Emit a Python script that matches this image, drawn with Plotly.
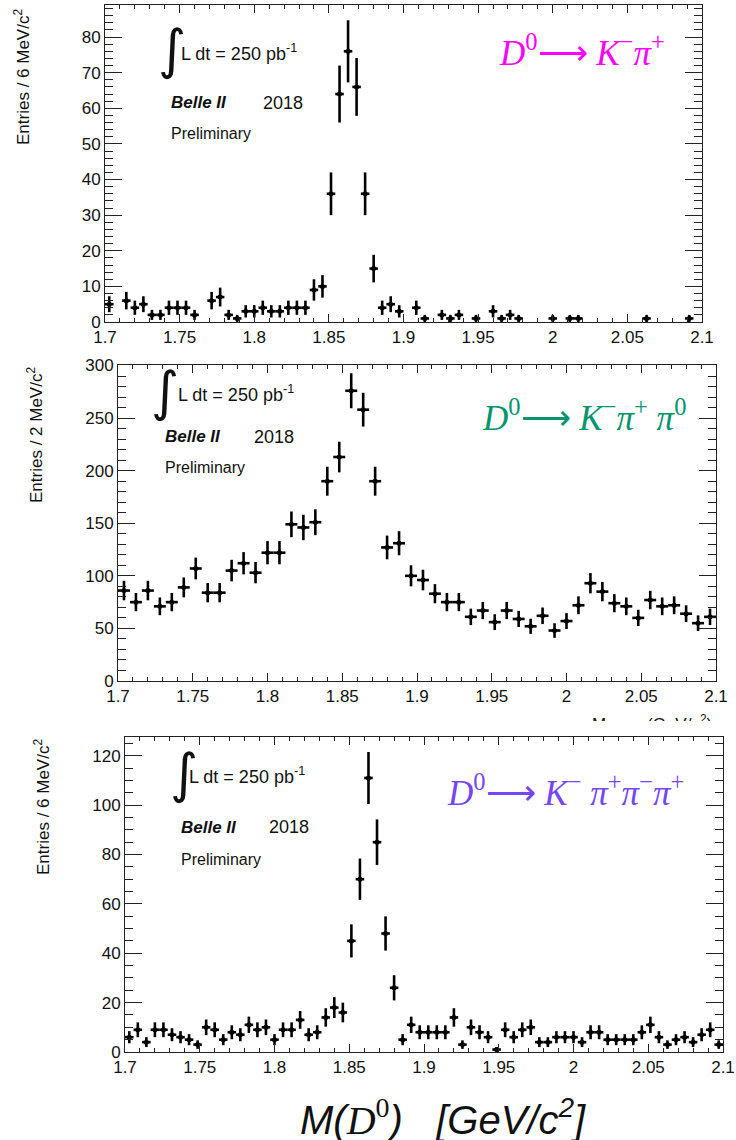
import numpy as np
import plotly.graph_objects as go

# ---- data -----------------------------------------------------------------
# histogram ranges (GeV/c^2) and number of bins per panel
mass_lo, mass_hi = 1.7, 2.1
nbins_kpi = 70
nbins_kpipi0 = 50
nbins_k3pi = 70

# D0 -> K- pi+ : entries per bin
counts_kpi = [
    5, 0, 6, 4, 5, 2, 2, 4, 4, 4,
    2, 0, 6, 7, 2, 1, 3, 3, 4, 3,
    3, 4, 4, 4, 9, 10, 36, 64, 76, 66,
    36, 15, 4, 5, 3, 0, 4, 1, 0, 2,
    1, 2, 0, 1, 0, 3, 1, 2, 1, 0,
    0, 0, 1, 0, 1, 1, 0, 0, 0, 0,
    0, 0, 0, 1, 0, 0, 0, 0, 1, 0,
]

# D0 -> K- pi+ pi0 : entries per bin
counts_kpipi0 = [
    86, 75, 86, 71, 75, 89, 107, 84, 84, 105,
    112, 103, 122, 122, 149, 146, 151, 190, 213, 276,
    258, 190, 127, 131, 100, 96, 83, 75, 75, 61,
    67, 56, 67, 59, 52, 62, 48, 57, 72, 93,
    85, 74, 71, 60, 77, 71, 72, 64, 55, 61,
]

# D0 -> K- pi+ pi- pi+ : entries per bin
counts_k3pi = [
    6, 9, 4, 9, 9, 7, 6, 5, 3, 10,
    9, 5, 8, 7, 11, 9, 10, 5, 9, 9,
    13, 7, 8, 14, 18, 16, 45, 70, 111, 85,
    48, 26, 5, 11, 8, 8, 8, 8, 14, 3,
    10, 8, 6, 1, 9, 6, 9, 10, 4, 4,
    6, 6, 6, 4, 8, 8, 5, 5, 5, 5,
    8, 11, 6, 3, 5, 6, 4, 7, 9, 3,
]

y_titles = ["Entries / 6 MeV/c<sup>2</sup>",
            "Entries / 2 MeV/c<sup>2</sup>",
            "Entries / 6 MeV/c<sup>2</sup>"]
ARROW = "\u27f6"
decay_labels = [
    "<i>D</i><sup>0</sup>" + ARROW + " <i>K</i><sup>\u2212</sup><i>\u03c0</i><sup>+</sup>",
    "<i>D</i><sup>0</sup>" + ARROW + " <i>K</i><sup>\u2212</sup><i>\u03c0</i><sup>+</sup>"
    " <i>\u03c0</i><sup>0</sup>",
    "<i>D</i><sup>0</sup>" + ARROW + " <i>K</i><sup>\u2212</sup> <i>\u03c0</i><sup>+</sup>"
    "<i>\u03c0</i><sup>\u2212</sup><i>\u03c0</i><sup>+</sup>",
]
decay_colors = ["#ff00ff", "#00956e", "#7446f5"]
y_max = [89.0, 300.5, 127.6]
y_dtick = [10, 50, 20]
y_minor = [2, 10, 5]

# ---- page geometry (pixels) -----------------------------------------------
W, H = 736, 1140
# frame boxes: (left, right, top, bottom)
frames = [(105, 702, 5, 322), (118, 716, 365, 681), (125, 723, 737, 1052)]

FONT = "Liberation Sans, Arial, sans-serif"
SERIF = "Liberation Serif, Times New Roman, serif"


def px_x(v):
    return v / W


def px_y(v):
    return 1 - v / H


fig = go.Figure()


def add_hist(counts, nbins, idx):
    edges = np.linspace(mass_lo, mass_hi, nbins + 1)
    centers = 0.5 * (edges[:-1] + edges[1:])
    half = 0.5 * (edges[1] - edges[0])
    c = np.asarray(counts, dtype=float)
    keep = c > 0
    sfx = "" if idx == 0 else str(idx + 1)
    fig.add_trace(go.Scatter(
        x=centers[keep], y=c[keep], mode="markers",
        marker=dict(symbol="circle", size=5, color="black"),
        error_y=dict(type="data", array=np.sqrt(c[keep]), width=0,
                     thickness=2.6, color="black"),
        error_x=dict(type="data", array=np.full(keep.sum(), half), width=0,
                     thickness=2.6, color="black"),
        xaxis="x" + sfx, yaxis="y" + sfx, showlegend=False,
        cliponaxis=False,
    ))


add_hist(counts_kpi, nbins_kpi, 0)
add_hist(counts_kpipi0, nbins_kpipi0, 1)
add_hist(counts_k3pi, nbins_k3pi, 2)

layout = dict(
    width=W, height=H, margin=dict(l=0, r=0, t=0, b=0, autoexpand=False),
    paper_bgcolor="white", plot_bgcolor="white",
    font=dict(family=FONT, size=17, color="#111"),
    showlegend=False,
)

for i, (l, r, t, b) in enumerate(frames):
    sfx = "" if i == 0 else str(i + 1)
    layout["xaxis" + sfx] = dict(
        domain=[px_x(l), px_x(r)], range=[mass_lo, mass_hi],
        anchor="y" + sfx, showgrid=False, zeroline=False, automargin=False,
        showline=True, linecolor="#222", linewidth=1, mirror="ticks",
        ticks="inside", ticklen=8, tickwidth=1, tickcolor="#222",
        tick0=1.7, dtick=0.05,
        minor=dict(ticks="inside", ticklen=4, dtick=0.01, tick0=1.7,
                   tickcolor="#222", showgrid=False),
        tickfont=dict(family=FONT, size=17, color="#111"),
    )
    layout["yaxis" + sfx] = dict(
        domain=[px_y(b), px_y(t)], range=[0, y_max[i]],
        anchor="x" + sfx, showgrid=False, zeroline=False, automargin=False,
        showline=True, linecolor="#222", linewidth=1, mirror="ticks",
        ticks="inside", ticklen=17, tickwidth=1, tickcolor="#222",
        tick0=0, dtick=y_dtick[i],
        minor=dict(ticks="inside", ticklen=8, dtick=y_minor[i], tick0=0,
                   tickcolor="#222", showgrid=False),
        tickfont=dict(family=FONT, size=17, color="#111"),
    )

# hidden strip holding the clipped top of an axis title under the middle panel
layout["xaxis4"] = dict(domain=[0, 1], range=[0, W], visible=False,
                        anchor="y4", automargin=False)
layout["yaxis4"] = dict(domain=[px_y(721), px_y(700)], range=[721, 700],
                        visible=False, anchor="x4", automargin=False)
fig.add_trace(go.Scatter(
    x=[592, 647], y=[726, 726], mode="text",
    text=["M<sub>K\u03c0\u03c0</sub>", "(GeV/c<sup>2</sup>)"],
    textposition="middle right",
    textfont=dict(family=FONT, size=17, color="#111"),
    xaxis="x4", yaxis="y4", cliponaxis=True, showlegend=False,
))

fig.update_layout(**layout)

ann = []
# per-panel text placement: integral sign, luminosity text, Belle II, 2018,
# Preliminary, decay label, y title
place = [
    dict(intx=172, inty=49, lumx=179, lumy=52, bx=169, by=103, yx=261,
         py=133, dx=497, dy=50, tx=22, ty=7),
    dict(intx=165, inty=391, lumx=176, lumy=394, bx=163, by=437, yx=252,
         py=468, dx=480, dy=415, tx=35, ty=365),
    dict(intx=184, inty=773, lumx=187, lumy=775, bx=179, by=827, yx=267,
         py=859, dx=445, dy=790, tx=42, ty=737),
]
for i, p in enumerate(place):
    ann.append(dict(x=px_x(p["intx"]), y=px_y(p["inty"]), xref="paper",
                    yref="paper", text="\u222b", showarrow=False,
                    xanchor="center", yanchor="middle",
                    font=dict(family="DejaVu Sans", size=54, color="#111")))
    ann.append(dict(x=px_x(p["lumx"]), y=px_y(p["lumy"]), xref="paper",
                    yref="paper", text="L dt = 250 pb<sup>-1</sup>",
                    showarrow=False, xanchor="left", yanchor="middle",
                    font=dict(family=FONT, size=18, color="#111")))
    ann.append(dict(x=px_x(p["bx"]), y=px_y(p["by"]), xref="paper",
                    yref="paper", text="<b><i>Belle II</i></b>",
                    showarrow=False, xanchor="left", yanchor="middle",
                    font=dict(family=FONT, size=17, color="#111")))
    ann.append(dict(x=px_x(p["yx"]), y=px_y(p["by"]), xref="paper",
                    yref="paper", text="2018", showarrow=False,
                    xanchor="left", yanchor="middle",
                    font=dict(family=FONT, size=18, color="#111")))
    ann.append(dict(x=px_x(p["bx"]), y=px_y(p["py"]), xref="paper",
                    yref="paper", text="Preliminary", showarrow=False,
                    xanchor="left", yanchor="middle",
                    font=dict(family=FONT, size=16, color="#111")))
    ann.append(dict(x=px_x(p["dx"]), y=px_y(p["dy"]), xref="paper",
                    yref="paper", text=decay_labels[i], showarrow=False,
                    xanchor="left", yanchor="middle",
                    font=dict(family=SERIF, size=35, color=decay_colors[i])))
    ann.append(dict(x=px_x(p["tx"]), y=px_y(p["ty"]), xref="paper",
                    yref="paper", text=y_titles[i], showarrow=False,
                    textangle=-90, xanchor="center", yanchor="top",
                    font=dict(family=FONT, size=17, color="#111")))

# common mass-axis title at the bottom
ann.append(dict(
    x=px_x(298), y=px_y(1117), xref="paper", yref="paper", showarrow=False,
    xanchor="left", yanchor="middle",
    text=("<i>M(</i><span style='font-family:Liberation Serif'><i>D</i>"
          "<sup>0</sup></span><i>)\u00a0\u00a0\u00a0[GeV/c<sup>2</sup>]</i>"),
    font=dict(family=FONT, size=40, color="#111"),
))

fig.update_layout(annotations=ann)
fig.write_html("out.html")
